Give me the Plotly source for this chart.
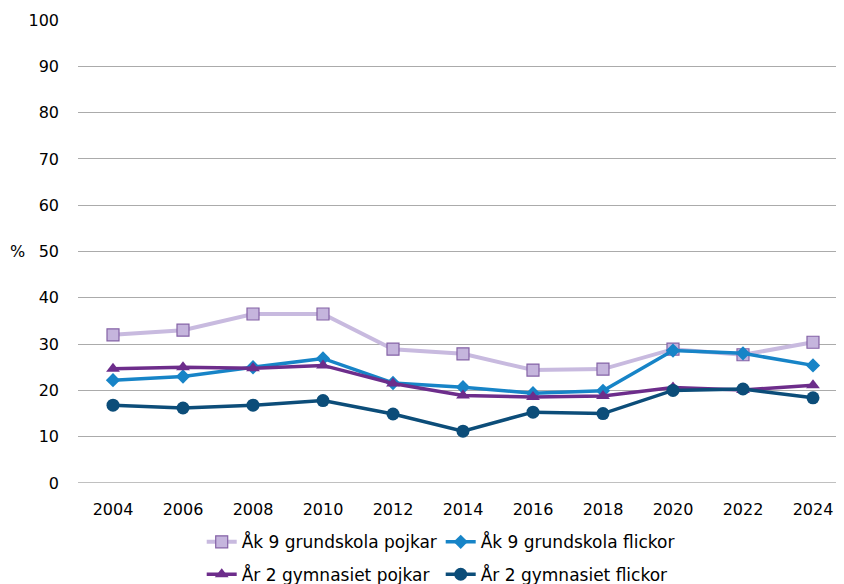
import plotly.graph_objects as go

years = [2004, 2006, 2008, 2010, 2012, 2014, 2016, 2018, 2020, 2022, 2024]
ak9_pojkar = [32.0, 33.0, 36.5, 36.5, 28.9, 27.9, 24.4, 24.6, 28.9, 27.7, 30.4]
ak9_flickor = [22.2, 23.0, 25.0, 26.9, 21.6, 20.7, 19.4, 19.9, 28.6, 28.0, 25.4]
ar2_pojkar = [24.7, 25.0, 24.8, 25.4, 21.5, 18.9, 18.6, 18.8, 20.6, 20.1, 21.1]
ar2_flickor = [16.8, 16.2, 16.8, 17.8, 14.9, 11.2, 15.3, 15.0, 20.0, 20.3, 18.4]
names = ["Åk 9 grundskola pojkar", "Åk 9 grundskola flickor",
         "År 2 gymnasiet pojkar", "År 2 gymnasiet flickor"]
y_ticks = list(range(0, 101, 10))

FONT = "DejaVu Sans"
FS = 16
fig = go.Figure()

fig.add_trace(go.Scatter(
    x=years, y=ak9_pojkar, name=names[0], mode="lines+markers",
    line=dict(color="#C8BADF", width=4),
    marker=dict(symbol="square", size=12, color="#C5B5DD",
                line=dict(color="#8462A6", width=1.2)),
    legend="legend"))
fig.add_trace(go.Scatter(
    x=years, y=ak9_flickor, name=names[1], mode="lines+markers",
    line=dict(color="#1784C7", width=3.5),
    marker=dict(symbol="diamond", size=11, color="#1784C7"),
    legend="legend"))
fig.add_trace(go.Scatter(
    x=years, y=ar2_pojkar, name=names[2], mode="lines+markers",
    line=dict(color="#6D2D8B", width=3.5),
    marker=dict(symbol="triangle-up", size=12, color="#6D2D8B"),
    legend="legend2"))
fig.add_trace(go.Scatter(
    x=years, y=ar2_flickor, name=names[3], mode="lines+markers",
    line=dict(color="#0C4D79", width=3.5),
    marker=dict(symbol="circle", size=13, color="#0C4D79"),
    legend="legend2"))

legend_common = dict(
    orientation="h", xanchor="left", x=0.1615,
    font=dict(family=FONT, size=17, color="#000000"),
    entrywidth=194, entrywidthmode="pixels",
    itemwidth=30, bgcolor="rgba(0,0,0,0)", tracegroupgap=0,
)

fig.update_layout(
    width=836, height=576,
    margin=dict(l=70, r=0, t=12, b=101, autoexpand=False),
    paper_bgcolor="white", plot_bgcolor="white",
    font=dict(family=FONT, size=FS, color="#000000"),
    showlegend=True,
    legend=dict(**legend_common, yanchor="middle", y=-0.128),
    legend2=dict(**legend_common, yanchor="middle", y=-0.198),
    xaxis=dict(
        range=[2003, 2024.886], tickvals=years, ticktext=[str(y) for y in years],
        showgrid=False, zeroline=False, showline=False, ticks="",
        automargin=False, ticklabelstandoff=15,
        tickfont=dict(family=FONT, size=FS, color="#000000"),
    ),
    yaxis=dict(
        range=[0, 100], tickvals=y_ticks, showgrid=True, gridcolor="#ABABAB",
        gridwidth=1.3, zeroline=False, showline=False, ticks="",
        automargin=False, ticklabelstandoff=18,
        tickfont=dict(family=FONT, size=FS, color="#000000"),
    ),
    annotations=[dict(text="%", x=-0.066, xref="paper", y=50, yref="y",
                      xanchor="right", showarrow=False,
                      font=dict(family=FONT, size=FS, color="#000000"))],
)
fig.add_hline(y=0, line_color="#ABABAB", line_width=1.3, layer="below")

fig.write_html("out.html")
